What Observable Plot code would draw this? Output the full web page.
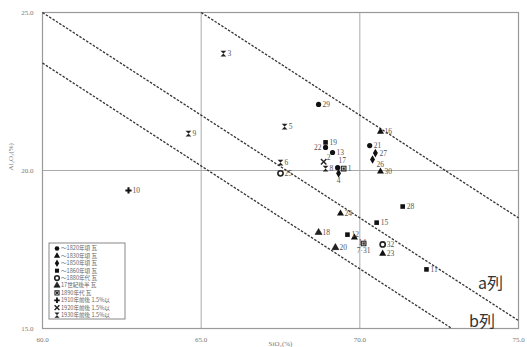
<!DOCTYPE html>
<html><head><meta charset="utf-8">
<script src="https://cdn.jsdelivr.net/npm/d3@7"></script>
<script src="https://cdn.jsdelivr.net/npm/@observablehq/plot@0.6"></script>
<style>body{margin:0;background:#fff}#chart{width:527px;height:347px}</style>
</head><body><div id="chart"></div>
<script>
// ---- data ----
const ids   = ["1","2","3","4","5","6","7·31","8","9","10","11","12","13","14","15","16","17","18","19","20","21","22","23","24","25","26","27","28","29","30","32"];
const sio2  = [69.49,68.86,65.70,69.33,67.63,67.50,70.12,68.92,64.60,62.71,72.10,69.61,69.14,69.83,70.53,70.65,69.30,68.70,68.92,69.23,70.31,68.92,70.72,69.39,67.50,70.40,70.49,71.35,68.70,70.65,70.72];
const al2o3 = [20.06,20.28,23.70,19.91,21.39,20.25,17.69,20.06,21.17,19.37,16.87,17.97,20.57,17.88,18.35,21.23,20.09,18.04,20.89,17.56,20.79,20.73,17.37,18.64,19.91,20.35,20.55,18.86,22.09,19.97,17.66];
const groups = [6,8,9,2,9,9,6,9,9,7,3,3,0,1,3,1,0,5,3,5,0,0,1,1,4,2,2,3,0,1,4];
const groupLabels = ["～1820年頃 瓦","～1830年頃 瓦","～1850年頃 瓦","～1860年頃 瓦","～1880年代 瓦","17世紀後半 瓦","1890年代 瓦","1910年前後 1.5%以","1920年前後 1.5%以","1930年前後 1.5%以"];
const xTicks = [60,65,70,75];
const yTicks = [15,20,25];
const gridX = [65,70];
const gridY = [20];
const lineX1 = [65,60,60], lineY1 = [25,25,23.4];
const lineX2 = [75,75,72.9], lineY2 = [18.5,15.25,15];
const annText = ["a列","b列"], annX = [74.12,73.85], annY = [16.42,15.2];
const labelLeft = ["22"], labelAbove = ["17"], labelBelow = ["4","7·31"], labelDown = ["26","14"], labelUp = ["2"];

// ---- build tables ----
const pts = ids.map((id,i)=>({id, x:sio2[i], y:al2o3[i], g:groups[i]}));
const lines = lineX1.map((_,i)=>({x1:lineX1[i],y1:lineY1[i],x2:lineX2[i],y2:lineY2[i]}));
const ann = annText.map((t,i)=>({t,x:annX[i],y:annY[i]}));

// custom symbols
const hourglass = {draw(c,size){const s=Math.sqrt(size)/1.6;c.moveTo(-s,-s);c.lineTo(s,-s);c.lineTo(-s,s);c.lineTo(s,s);c.closePath();}};
const innerSq = {draw(c,size){const s=Math.sqrt(size)/4;c.rect(-s,-s,2*s,2*s);}};
const styles = [
  [{symbol:"circle",fill:"#111"}],
  [{symbol:"triangle",fill:"#111"}],
  [{symbol:"diamond",fill:"#111"}],
  [{symbol:"square",fill:"#111"}],
  [{symbol:"circle",fill:"#fff",stroke:"#222",strokeWidth:1.6}],
  [{symbol:"triangle",fill:"#222",stroke:"#000",strokeWidth:0.5}],
  [{symbol:"square",fill:"#fff",stroke:"#222",strokeWidth:1.1},{symbol:innerSq,fill:"#222"}],
  [{symbol:"cross",fill:"#111"}],
  [{symbol:"times",stroke:"#222",strokeWidth:1.4}],
  [{symbol:hourglass,fill:"#222"}]
];
const dotMarks = [];
styles.forEach((arr,g)=>{
  const sub = pts.filter(p=>p.g===g);
  arr.forEach(st=>dotMarks.push(Plot.dot(sub,{x:"x",y:"y",r:2.6,...st})));
});
const special = [...labelLeft,...labelAbove,...labelBelow,...labelDown,...labelUp];
const txt = {x:"x",y:"y",text:"id",fontSize:7.5,fill:"#555",fontFamily:"'Liberation Serif',serif"};

const chart = Plot.plot({
  width:527, height:347,
  marginLeft:42, marginRight:9, marginTop:12, marginBottom:19,
  x:{domain:[60,75]}, y:{domain:[15,25]},
  style:{background:"#fff",fontFamily:"'Liberation Serif',serif"},
  marks:[
    Plot.ruleX(gridX,{stroke:"#aaa",strokeWidth:1}),
    Plot.ruleY(gridY,{stroke:"#aaa",strokeWidth:1}),
    Plot.frame({stroke:"#999",strokeWidth:1.2}),
    Plot.link(lines,{x1:"x1",y1:"y1",x2:"x2",y2:"y2",stroke:"#333",strokeWidth:1.3,strokeDasharray:"2.5,1.5"}),
    ...dotMarks,
    Plot.text(pts.filter(p=>!special.includes(p.id)),{...txt,dx:4,textAnchor:"start"}),
    Plot.text(pts.filter(p=>labelLeft.includes(p.id)),{...txt,dx:-4,textAnchor:"end"}),
    Plot.text(pts.filter(p=>labelAbove.includes(p.id)),{...txt,dx:1,dy:-7,textAnchor:"start"}),
    Plot.text(pts.filter(p=>labelBelow.includes(p.id)),{...txt,dy:7}),
    Plot.text(pts.filter(p=>labelDown.includes(p.id)),{...txt,dx:4,dy:5,textAnchor:"start"}),
    Plot.text(pts.filter(p=>labelUp.includes(p.id)),{...txt,dx:3,dy:-4,textAnchor:"start"}),
    Plot.text(ann,{x:"x",y:"y",text:"t",fontSize:16,fill:"#333",fontFamily:"'Noto Sans CJK JP',sans-serif"}),
    Plot.axisX(xTicks,{tickSize:0,tickPadding:9,tickFormat:d=>d.toFixed(1),fontSize:7,fill:"#777",label:null}),
    Plot.axisY(yTicks,{tickSize:0,tickPadding:9,tickFormat:d=>d.toFixed(1),fontSize:7,fill:"#777",label:null}),
    Plot.text(["SiO₂(%)"],{frameAnchor:"bottom",dy:17,fontSize:7,fill:"#777"}),
    Plot.text(["Al₂O₃(%)"],{frameAnchor:"left",dx:-32,rotate:-90,fontSize:7,fill:"#777"})
  ]
});
document.getElementById("chart").append(chart);

// legend box inside plot area
const svg = d3.select(chart);
const lg = svg.append("g").attr("transform","translate(49,243)").attr("text-anchor","start");
lg.append("rect").attr("width",76).attr("height",76).attr("fill","#fff").attr("stroke","#888").attr("stroke-width",1);
const symTypes = {circle:d3.symbolCircle,triangle:d3.symbolTriangle,diamond:d3.symbolDiamond,square:d3.symbolSquare,cross:d3.symbolCross,times:d3.symbolTimes};
groupLabels.forEach((lab,i)=>{
  const y = 5.5 + i*7.4;
  styles[i].forEach(st=>{
    const type = typeof st.symbol==="string" ? symTypes[st.symbol] : st.symbol;
    lg.append("path").attr("d",d3.symbol(type, 2.3*2.3*Math.PI)()).attr("transform",`translate(8,${y})`)
      .attr("fill",st.fill||"none").attr("stroke",st.stroke||"none").attr("stroke-width",st.strokeWidth||0);
  });
  lg.append("text").attr("x",12).attr("y",y).attr("dy","0.35em").attr("font-size",5.6).attr("text-anchor","start")
    .attr("fill","#666").attr("font-family","'Noto Sans CJK JP',sans-serif").text(lab);
});
</script>
</body></html>
